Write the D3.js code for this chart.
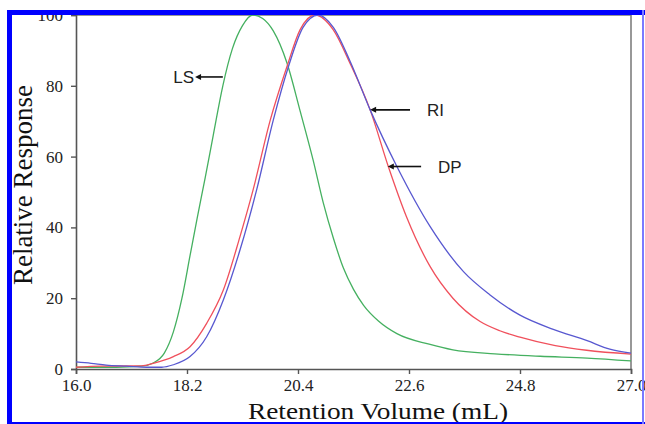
<!DOCTYPE html>
<html>
<head>
<meta charset="utf-8">
<script src="https://cdn.jsdelivr.net/npm/d3@7"></script>
<style>
  body { margin: 0; background: #fff; }
  svg { display: block; }
</style>
</head>
<body>
<div class="container"></div>
<script>
// values (retention volume in mL, relative response)
const lsVol  = [16.0, 16.8, 17.3, 17.53, 17.75, 17.93, 18.1, 18.26, 18.4, 18.56, 18.72, 18.91, 19.1, 19.3, 19.5, 19.7, 19.91, 20.18, 20.44, 20.7, 20.9, 21.1, 21.3, 21.5, 21.7, 22.0, 22.36, 23.0, 23.47, 24.3, 25.2, 26.13, 27.0]
const lsResp = [0.5, 0.5, 0.8, 1.7, 4.5, 10.5, 20, 32, 42.5, 54, 66, 80, 90.5, 97, 100, 99, 95.5, 86.5, 73, 59, 47, 37, 28.5, 22.5, 18, 13.5, 10, 7, 5.4, 4.3, 3.6, 3.1, 2.3]

const dpVol  = [16.0, 16.5, 17.3, 17.53, 17.93, 18.26, 18.59, 18.92, 19.25, 19.51, 19.85, 20.18, 20.44, 20.74, 21.1, 21.43, 21.83, 22.19, 22.55, 23.02, 23.47, 24.01, 24.4, 24.8, 25.5, 26.12, 27.0]
const dpResp = [0.5, 0.8, 0.9, 1.6, 3.5, 6.3, 12.9, 22.3, 37.4, 50.6, 70.3, 85.4, 95.8, 100, 95.8, 86.4, 73.2, 57.2, 43, 28.9, 20, 13.4, 10.8, 9, 6.6, 5.3, 4.2]

const riVol  = [16.0, 16.3, 16.6, 17.0, 17.4, 17.7, 17.93, 18.26, 18.59, 18.92, 19.25, 19.58, 19.91, 20.21, 20.5, 20.8, 21.1, 21.43, 21.83, 22.36, 23.02, 23.68, 24.2, 24.8, 25.46, 26.13, 26.58, 27.0]
const riResp = [2, 1.6, 1.1, 0.8, 0.5, 0.5, 1.2, 3.5, 9.1, 19.5, 33.6, 50.6, 70.3, 85.4, 96.5, 100, 96.5, 87, 73.2, 57.2, 40.2, 27.5, 21, 15.2, 11.2, 8, 5.6, 4.5]

const xTicks = [16.0, 18.2, 20.4, 22.6, 24.8, 27.0]
const yTicks = [0, 20, 40, 60, 80, 100]

// arrows: label, arrow head, arrow tail (data units)
const notes = [
    { label: "LS", head: [18.36, 82.5], tail: [18.91, 82.5], side: "left" },
    { label: "RI", head: [21.83, 73.2], tail: [22.62, 73.2], side: "right" },
    { label: "DP", head: [22.18, 57.2], tail: [22.84, 57.2], side: "right" }
]

const width = 645, height = 424
const margin = { top: 15, right: 14, bottom: 55, left: 76 }

let svg = d3.select(".container")
    .append("svg")
    .attr("width", width)
    .attr("height", height)

let x = d3.scaleLinear()
    .domain([16, 27])
    .range([margin.left, width - margin.right])

let y = d3.scaleLinear()
    .domain([0, 100])
    .range([height - margin.bottom, margin.top])

// frame on top and right
svg.append("path")
    .attr("d", `M${x(16)},${y(100)}H${x(27)}V${y(0)}`)
    .attr("fill", "none")
    .attr("stroke", "#777")
    .attr("stroke-width", 1.5)

let xAxis = svg.append("g")
    .attr("transform", `translate(0, ${y(0)})`)
    .call(d3.axisBottom(x).tickValues(xTicks).tickFormat(d3.format(".1f")).tickSize(5).tickPadding(5))
let yAxis = svg.append("g")
    .attr("transform", `translate(${x(16)}, 0)`)
    .call(d3.axisLeft(y).tickValues(yTicks).tickSize(5).tickPadding(8))

for (let g of [xAxis, yAxis]) {
    g.select(".domain").attr("stroke", "#555").attr("stroke-width", 1.6)
    g.selectAll(".tick line").attr("stroke", "#555").attr("stroke-width", 1.4)
    g.selectAll(".tick text")
        .attr("fill", "#222")
        .style("font-family", "'Liberation Serif', 'Times New Roman', serif")
        .style("font-size", "17px")
}

let line = d3.line()
    .x(d => x(d[0]))
    .y(d => y(d[1]))
    .curve(d3.curveMonotoneX)

const series = [
    { vol: lsVol, resp: lsResp, color: "#45b060" },
    { vol: dpVol, resp: dpResp, color: "#f0505c" },
    { vol: riVol, resp: riResp, color: "#5858d0" }
]

svg.append("g")
    .selectAll("path")
    .data(series)
    .join("path")
    .attr("d", s => line(s.vol.map((v, i) => [v, s.resp[i]])))
    .attr("fill", "none")
    .attr("stroke", s => s.color)
    .attr("stroke-width", 1.3)

// annotations
let ann = svg.append("g").attr("class", "notes")
ann.selectAll("line")
    .data(notes)
    .join("line")
    .attr("x1", d => x(d.tail[0]))
    .attr("y1", d => y(d.tail[1]))
    .attr("x2", d => x(d.head[0]) + 5)
    .attr("y2", d => y(d.head[1]))
    .attr("stroke", "#111")
    .attr("stroke-width", 1.6)
ann.selectAll("path")
    .data(notes)
    .join("path")
    .attr("d", d => {
        let hx = x(d.head[0]), hy = y(d.head[1])
        return `M${hx},${hy}L${hx + 6},${hy - 3}L${hx + 6},${hy + 3}Z`
    })
    .attr("fill", "#111")
ann.selectAll("text")
    .data(notes)
    .join("text")
    .attr("x", d => d.side == "left" ? x(d.head[0]) - 1 : x(d.tail[0]) + 17)
    .attr("y", d => y(d.head[1]) + 6)
    .attr("text-anchor", d => d.side == "left" ? "end" : "start")
    .style("font-family", "'Liberation Sans', Arial, sans-serif")
    .style("font-size", "17px")
    .attr("fill", "#222")
    .text(d => d.label)

// axis titles
svg.append("text")
    .attr("x", 248)
    .attr("y", 419)
    .attr("textLength", 260)
    .attr("lengthAdjust", "spacingAndGlyphs")
    .style("font-family", "'Liberation Serif', 'Times New Roman', serif")
    .style("font-size", "23px")
    .attr("fill", "#111")
    .text("Retention Volume (mL)")

svg.append("text")
    .attr("transform", "translate(32, 185) rotate(-90)")
    .attr("text-anchor", "middle")
    .style("font-family", "'Liberation Serif', 'Times New Roman', serif")
    .style("font-size", "27px")
    .attr("fill", "#111")
    .text("Relative Response")

// blue border around the figure
let border = svg.append("g")
border.append("rect").attr("x", 7).attr("y", 10).attr("width", 638).attr("height", 5).attr("fill", "#0000ff")
border.append("rect").attr("x", 7).attr("y", 10).attr("width", 5).attr("height", 414).attr("fill", "#0000ff")
border.append("rect").attr("x", 7).attr("y", 422).attr("width", 638).attr("height", 2).attr("fill", "#0000ff")
border.append("rect").attr("x", 642).attr("y", 10).attr("width", 2).attr("height", 414).attr("fill", "#7a7aff")
</script>
</body>
</html>
